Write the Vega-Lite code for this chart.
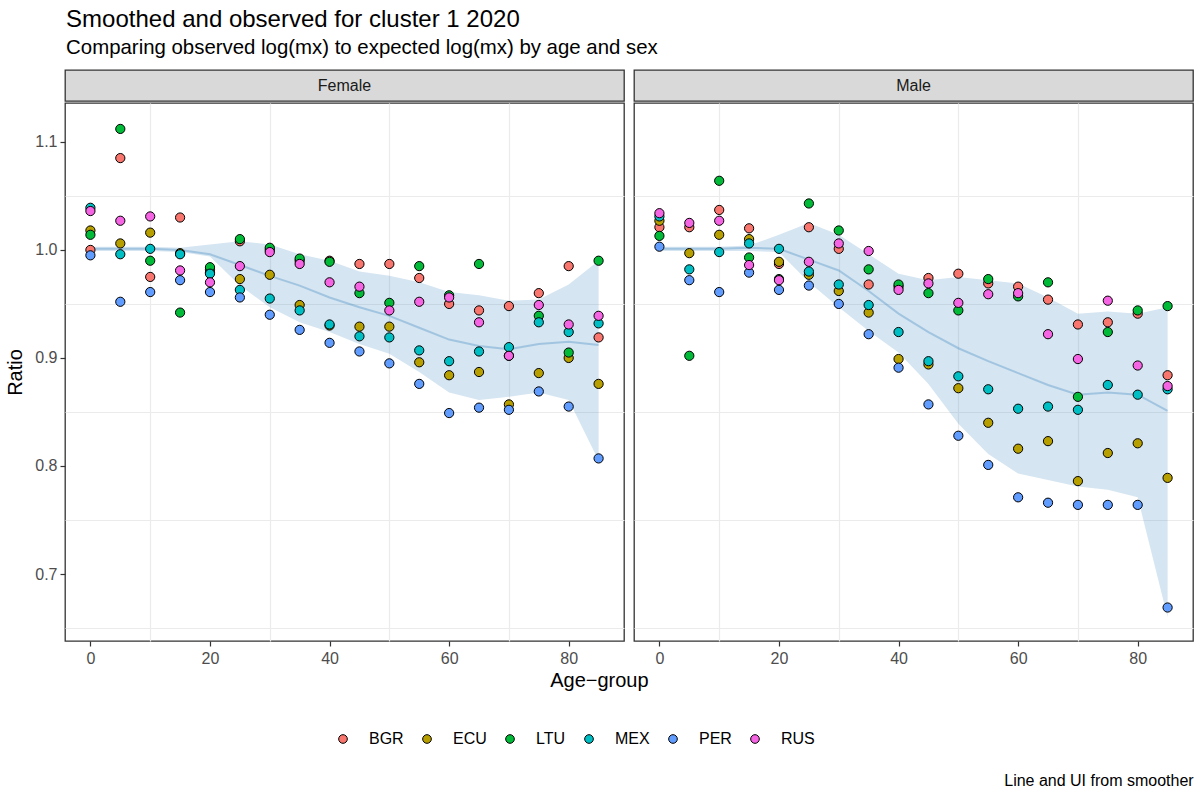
{
  "$schema": "https://vega.github.io/schema/vega-lite/v6.json",
  "background": "white",
  "padding": {"left": 5, "right": 8, "top": 7, "bottom": 5},
  "config": {
    "font": "Liberation Sans",
    "view": {"stroke": "#333333", "strokeWidth": 1.3},
    "axis": {
      "labelFont": "Liberation Sans", "labelFontSize": 16, "labelColor": "#4d4d4d",
      "tickColor": "#333333", "tickSize": 5, "tickWidth": 1.2, "domain": false,
      "gridColor": "#ebebeb", "gridWidth": 1.2,
      "titleFont": "Liberation Sans", "titleFontSize": 20, "titleFontWeight": "normal", "titleColor": "#000000"
    },
    "legend": {"labelFont": "Liberation Sans"}
  },
  "datasets": {
    "obs": [
      {"sex":"Female","country":"BGR","age":0,"ratio":1.000},{"sex":"Female","country":"BGR","age":5,"ratio":1.085},{"sex":"Female","country":"BGR","age":10,"ratio":0.975},{"sex":"Female","country":"BGR","age":15,"ratio":1.030},{"sex":"Female","country":"BGR","age":20,"ratio":0.982},{"sex":"Female","country":"BGR","age":25,"ratio":1.008},{"sex":"Female","country":"BGR","age":30,"ratio":1.000},{"sex":"Female","country":"BGR","age":35,"ratio":0.990},{"sex":"Female","country":"BGR","age":40,"ratio":0.990},{"sex":"Female","country":"BGR","age":45,"ratio":0.987},{"sex":"Female","country":"BGR","age":50,"ratio":0.987},{"sex":"Female","country":"BGR","age":55,"ratio":0.974},{"sex":"Female","country":"BGR","age":60,"ratio":0.950},{"sex":"Female","country":"BGR","age":65,"ratio":0.944},{"sex":"Female","country":"BGR","age":70,"ratio":0.948},{"sex":"Female","country":"BGR","age":75,"ratio":0.960},{"sex":"Female","country":"BGR","age":80,"ratio":0.985},{"sex":"Female","country":"BGR","age":85,"ratio":0.919},
      {"sex":"Female","country":"ECU","age":0,"ratio":1.018},{"sex":"Female","country":"ECU","age":5,"ratio":1.006},{"sex":"Female","country":"ECU","age":10,"ratio":1.016},{"sex":"Female","country":"ECU","age":15,"ratio":0.997},{"sex":"Female","country":"ECU","age":20,"ratio":0.979},{"sex":"Female","country":"ECU","age":25,"ratio":0.973},{"sex":"Female","country":"ECU","age":30,"ratio":0.977},{"sex":"Female","country":"ECU","age":35,"ratio":0.949},{"sex":"Female","country":"ECU","age":40,"ratio":0.930},{"sex":"Female","country":"ECU","age":45,"ratio":0.929},{"sex":"Female","country":"ECU","age":50,"ratio":0.929},{"sex":"Female","country":"ECU","age":55,"ratio":0.896},{"sex":"Female","country":"ECU","age":60,"ratio":0.884},{"sex":"Female","country":"ECU","age":65,"ratio":0.887},{"sex":"Female","country":"ECU","age":70,"ratio":0.857},{"sex":"Female","country":"ECU","age":75,"ratio":0.886},{"sex":"Female","country":"ECU","age":80,"ratio":0.900},{"sex":"Female","country":"ECU","age":85,"ratio":0.876},
      {"sex":"Female","country":"LTU","age":0,"ratio":1.014},{"sex":"Female","country":"LTU","age":5,"ratio":1.112},{"sex":"Female","country":"LTU","age":10,"ratio":0.990},{"sex":"Female","country":"LTU","age":15,"ratio":0.942},{"sex":"Female","country":"LTU","age":20,"ratio":0.984},{"sex":"Female","country":"LTU","age":25,"ratio":1.010},{"sex":"Female","country":"LTU","age":30,"ratio":1.002},{"sex":"Female","country":"LTU","age":35,"ratio":0.992},{"sex":"Female","country":"LTU","age":40,"ratio":0.989},{"sex":"Female","country":"LTU","age":45,"ratio":0.960},{"sex":"Female","country":"LTU","age":50,"ratio":0.951},{"sex":"Female","country":"LTU","age":55,"ratio":0.985},{"sex":"Female","country":"LTU","age":60,"ratio":0.958},{"sex":"Female","country":"LTU","age":65,"ratio":0.987},{"sex":"Female","country":"LTU","age":70,"ratio":0.902},{"sex":"Female","country":"LTU","age":75,"ratio":0.939},{"sex":"Female","country":"LTU","age":80,"ratio":0.905},{"sex":"Female","country":"LTU","age":85,"ratio":0.990},
      {"sex":"Female","country":"MEX","age":0,"ratio":1.039},{"sex":"Female","country":"MEX","age":5,"ratio":0.996},{"sex":"Female","country":"MEX","age":10,"ratio":1.001},{"sex":"Female","country":"MEX","age":15,"ratio":0.996},{"sex":"Female","country":"MEX","age":20,"ratio":0.978},{"sex":"Female","country":"MEX","age":25,"ratio":0.963},{"sex":"Female","country":"MEX","age":30,"ratio":0.955},{"sex":"Female","country":"MEX","age":35,"ratio":0.944},{"sex":"Female","country":"MEX","age":40,"ratio":0.931},{"sex":"Female","country":"MEX","age":45,"ratio":0.920},{"sex":"Female","country":"MEX","age":50,"ratio":0.919},{"sex":"Female","country":"MEX","age":55,"ratio":0.907},{"sex":"Female","country":"MEX","age":60,"ratio":0.897},{"sex":"Female","country":"MEX","age":65,"ratio":0.906},{"sex":"Female","country":"MEX","age":70,"ratio":0.910},{"sex":"Female","country":"MEX","age":75,"ratio":0.933},{"sex":"Female","country":"MEX","age":80,"ratio":0.924},{"sex":"Female","country":"MEX","age":85,"ratio":0.932},
      {"sex":"Female","country":"PER","age":0,"ratio":0.995},{"sex":"Female","country":"PER","age":5,"ratio":0.952},{"sex":"Female","country":"PER","age":10,"ratio":0.961},{"sex":"Female","country":"PER","age":15,"ratio":0.972},{"sex":"Female","country":"PER","age":20,"ratio":0.961},{"sex":"Female","country":"PER","age":25,"ratio":0.956},{"sex":"Female","country":"PER","age":30,"ratio":0.940},{"sex":"Female","country":"PER","age":35,"ratio":0.926},{"sex":"Female","country":"PER","age":40,"ratio":0.914},{"sex":"Female","country":"PER","age":45,"ratio":0.906},{"sex":"Female","country":"PER","age":50,"ratio":0.895},{"sex":"Female","country":"PER","age":55,"ratio":0.876},{"sex":"Female","country":"PER","age":60,"ratio":0.849},{"sex":"Female","country":"PER","age":65,"ratio":0.854},{"sex":"Female","country":"PER","age":70,"ratio":0.852},{"sex":"Female","country":"PER","age":75,"ratio":0.869},{"sex":"Female","country":"PER","age":80,"ratio":0.855},{"sex":"Female","country":"PER","age":85,"ratio":0.807},
      {"sex":"Female","country":"RUS","age":0,"ratio":1.036},{"sex":"Female","country":"RUS","age":5,"ratio":1.027},{"sex":"Female","country":"RUS","age":10,"ratio":1.031},{"sex":"Female","country":"RUS","age":15,"ratio":0.981},{"sex":"Female","country":"RUS","age":20,"ratio":0.970},{"sex":"Female","country":"RUS","age":25,"ratio":0.985},{"sex":"Female","country":"RUS","age":30,"ratio":0.998},{"sex":"Female","country":"RUS","age":35,"ratio":0.987},{"sex":"Female","country":"RUS","age":40,"ratio":0.970},{"sex":"Female","country":"RUS","age":45,"ratio":0.966},{"sex":"Female","country":"RUS","age":50,"ratio":0.944},{"sex":"Female","country":"RUS","age":55,"ratio":0.952},{"sex":"Female","country":"RUS","age":60,"ratio":0.956},{"sex":"Female","country":"RUS","age":65,"ratio":0.933},{"sex":"Female","country":"RUS","age":70,"ratio":0.902},{"sex":"Female","country":"RUS","age":75,"ratio":0.949},{"sex":"Female","country":"RUS","age":80,"ratio":0.931},{"sex":"Female","country":"RUS","age":85,"ratio":0.939},
      {"sex":"Male","country":"BGR","age":0,"ratio":1.021},{"sex":"Male","country":"BGR","age":5,"ratio":1.021},{"sex":"Male","country":"BGR","age":10,"ratio":1.037},{"sex":"Male","country":"BGR","age":15,"ratio":1.020},{"sex":"Male","country":"BGR","age":20,"ratio":0.987},{"sex":"Male","country":"BGR","age":25,"ratio":1.021},{"sex":"Male","country":"BGR","age":30,"ratio":1.001},{"sex":"Male","country":"BGR","age":35,"ratio":0.968},{"sex":"Male","country":"BGR","age":40,"ratio":0.966},{"sex":"Male","country":"BGR","age":45,"ratio":0.974},{"sex":"Male","country":"BGR","age":50,"ratio":0.978},{"sex":"Male","country":"BGR","age":55,"ratio":0.969},{"sex":"Male","country":"BGR","age":60,"ratio":0.966},{"sex":"Male","country":"BGR","age":65,"ratio":0.954},{"sex":"Male","country":"BGR","age":70,"ratio":0.931},{"sex":"Male","country":"BGR","age":75,"ratio":0.933},{"sex":"Male","country":"BGR","age":80,"ratio":0.941},{"sex":"Male","country":"BGR","age":85,"ratio":0.884},
      {"sex":"Male","country":"ECU","age":0,"ratio":1.027},{"sex":"Male","country":"ECU","age":5,"ratio":0.997},{"sex":"Male","country":"ECU","age":10,"ratio":1.014},{"sex":"Male","country":"ECU","age":15,"ratio":1.010},{"sex":"Male","country":"ECU","age":20,"ratio":0.989},{"sex":"Male","country":"ECU","age":25,"ratio":0.977},{"sex":"Male","country":"ECU","age":30,"ratio":0.962},{"sex":"Male","country":"ECU","age":35,"ratio":0.942},{"sex":"Male","country":"ECU","age":40,"ratio":0.899},{"sex":"Male","country":"ECU","age":45,"ratio":0.894},{"sex":"Male","country":"ECU","age":50,"ratio":0.872},{"sex":"Male","country":"ECU","age":55,"ratio":0.840},{"sex":"Male","country":"ECU","age":60,"ratio":0.816},{"sex":"Male","country":"ECU","age":65,"ratio":0.823},{"sex":"Male","country":"ECU","age":70,"ratio":0.786},{"sex":"Male","country":"ECU","age":75,"ratio":0.812},{"sex":"Male","country":"ECU","age":80,"ratio":0.821},{"sex":"Male","country":"ECU","age":85,"ratio":0.789},
      {"sex":"Male","country":"LTU","age":0,"ratio":1.013},{"sex":"Male","country":"LTU","age":5,"ratio":0.902},{"sex":"Male","country":"LTU","age":10,"ratio":1.064},{"sex":"Male","country":"LTU","age":15,"ratio":0.993},{"sex":"Male","country":"LTU","age":20,"ratio":0.973},{"sex":"Male","country":"LTU","age":25,"ratio":1.043},{"sex":"Male","country":"LTU","age":30,"ratio":1.018},{"sex":"Male","country":"LTU","age":35,"ratio":0.982},{"sex":"Male","country":"LTU","age":40,"ratio":0.968},{"sex":"Male","country":"LTU","age":45,"ratio":0.960},{"sex":"Male","country":"LTU","age":50,"ratio":0.944},{"sex":"Male","country":"LTU","age":55,"ratio":0.973},{"sex":"Male","country":"LTU","age":60,"ratio":0.957},{"sex":"Male","country":"LTU","age":65,"ratio":0.970},{"sex":"Male","country":"LTU","age":70,"ratio":0.864},{"sex":"Male","country":"LTU","age":75,"ratio":0.924},{"sex":"Male","country":"LTU","age":80,"ratio":0.944},{"sex":"Male","country":"LTU","age":85,"ratio":0.948},
      {"sex":"Male","country":"MEX","age":0,"ratio":1.031},{"sex":"Male","country":"MEX","age":5,"ratio":0.982},{"sex":"Male","country":"MEX","age":10,"ratio":0.998},{"sex":"Male","country":"MEX","age":15,"ratio":1.006},{"sex":"Male","country":"MEX","age":20,"ratio":1.001},{"sex":"Male","country":"MEX","age":25,"ratio":0.980},{"sex":"Male","country":"MEX","age":30,"ratio":0.968},{"sex":"Male","country":"MEX","age":35,"ratio":0.949},{"sex":"Male","country":"MEX","age":40,"ratio":0.924},{"sex":"Male","country":"MEX","age":45,"ratio":0.897},{"sex":"Male","country":"MEX","age":50,"ratio":0.883},{"sex":"Male","country":"MEX","age":55,"ratio":0.871},{"sex":"Male","country":"MEX","age":60,"ratio":0.853},{"sex":"Male","country":"MEX","age":65,"ratio":0.855},{"sex":"Male","country":"MEX","age":70,"ratio":0.852},{"sex":"Male","country":"MEX","age":75,"ratio":0.875},{"sex":"Male","country":"MEX","age":80,"ratio":0.866},{"sex":"Male","country":"MEX","age":85,"ratio":0.871},
      {"sex":"Male","country":"PER","age":0,"ratio":1.003},{"sex":"Male","country":"PER","age":5,"ratio":0.972},{"sex":"Male","country":"PER","age":10,"ratio":0.961},{"sex":"Male","country":"PER","age":15,"ratio":0.979},{"sex":"Male","country":"PER","age":20,"ratio":0.963},{"sex":"Male","country":"PER","age":25,"ratio":0.967},{"sex":"Male","country":"PER","age":30,"ratio":0.950},{"sex":"Male","country":"PER","age":35,"ratio":0.922},{"sex":"Male","country":"PER","age":40,"ratio":0.891},{"sex":"Male","country":"PER","age":45,"ratio":0.857},{"sex":"Male","country":"PER","age":50,"ratio":0.828},{"sex":"Male","country":"PER","age":55,"ratio":0.801},{"sex":"Male","country":"PER","age":60,"ratio":0.771},{"sex":"Male","country":"PER","age":65,"ratio":0.766},{"sex":"Male","country":"PER","age":70,"ratio":0.764},{"sex":"Male","country":"PER","age":75,"ratio":0.764},{"sex":"Male","country":"PER","age":80,"ratio":0.764},{"sex":"Male","country":"PER","age":85,"ratio":0.669},
      {"sex":"Male","country":"RUS","age":0,"ratio":1.034},{"sex":"Male","country":"RUS","age":5,"ratio":1.025},{"sex":"Male","country":"RUS","age":10,"ratio":1.027},{"sex":"Male","country":"RUS","age":15,"ratio":0.986},{"sex":"Male","country":"RUS","age":20,"ratio":0.972},{"sex":"Male","country":"RUS","age":25,"ratio":0.989},{"sex":"Male","country":"RUS","age":30,"ratio":1.006},{"sex":"Male","country":"RUS","age":35,"ratio":0.999},{"sex":"Male","country":"RUS","age":40,"ratio":0.963},{"sex":"Male","country":"RUS","age":45,"ratio":0.969},{"sex":"Male","country":"RUS","age":50,"ratio":0.951},{"sex":"Male","country":"RUS","age":55,"ratio":0.959},{"sex":"Male","country":"RUS","age":60,"ratio":0.960},{"sex":"Male","country":"RUS","age":65,"ratio":0.922},{"sex":"Male","country":"RUS","age":70,"ratio":0.899},{"sex":"Male","country":"RUS","age":75,"ratio":0.953},{"sex":"Male","country":"RUS","age":80,"ratio":0.893},{"sex":"Male","country":"RUS","age":85,"ratio":0.874}
    ],
    "smooth": [
      {"sex":"Female","age":0,"fit":1.001,"lo":0.999,"hi":1.003},{"sex":"Female","age":5,"fit":1.001,"lo":0.999,"hi":1.003},{"sex":"Female","age":10,"fit":1.001,"lo":0.999,"hi":1.003},{"sex":"Female","age":15,"fit":1.000,"lo":0.998,"hi":1.002},{"sex":"Female","age":20,"fit":0.996,"lo":0.994,"hi":1.005},{"sex":"Female","age":25,"fit":0.986,"lo":0.967,"hi":1.008},{"sex":"Female","age":30,"fit":0.976,"lo":0.947,"hi":1.005},{"sex":"Female","age":35,"fit":0.967,"lo":0.933,"hi":0.996},{"sex":"Female","age":40,"fit":0.956,"lo":0.924,"hi":0.990},{"sex":"Female","age":45,"fit":0.947,"lo":0.913,"hi":0.980},{"sex":"Female","age":50,"fit":0.939,"lo":0.904,"hi":0.976},{"sex":"Female","age":55,"fit":0.928,"lo":0.887,"hi":0.970},{"sex":"Female","age":60,"fit":0.917,"lo":0.868,"hi":0.961},{"sex":"Female","age":65,"fit":0.911,"lo":0.861,"hi":0.958},{"sex":"Female","age":70,"fit":0.908,"lo":0.864,"hi":0.953},{"sex":"Female","age":75,"fit":0.913,"lo":0.868,"hi":0.954},{"sex":"Female","age":80,"fit":0.915,"lo":0.861,"hi":0.968},{"sex":"Female","age":85,"fit":0.912,"lo":0.805,"hi":0.990},
      {"sex":"Male","age":0,"fit":1.001,"lo":0.999,"hi":1.003},{"sex":"Male","age":5,"fit":1.001,"lo":0.999,"hi":1.003},{"sex":"Male","age":10,"fit":1.001,"lo":0.999,"hi":1.003},{"sex":"Male","age":15,"fit":1.002,"lo":0.999,"hi":1.004},{"sex":"Male","age":20,"fit":1.001,"lo":0.998,"hi":1.014},{"sex":"Male","age":25,"fit":0.991,"lo":0.970,"hi":1.025},{"sex":"Male","age":30,"fit":0.981,"lo":0.947,"hi":1.014},{"sex":"Male","age":35,"fit":0.962,"lo":0.925,"hi":0.996},{"sex":"Male","age":40,"fit":0.941,"lo":0.905,"hi":0.978},{"sex":"Male","age":45,"fit":0.924,"lo":0.876,"hi":0.972},{"sex":"Male","age":50,"fit":0.909,"lo":0.839,"hi":0.975},{"sex":"Male","age":55,"fit":0.897,"lo":0.811,"hi":0.972},{"sex":"Male","age":60,"fit":0.886,"lo":0.793,"hi":0.969},{"sex":"Male","age":65,"fit":0.875,"lo":0.787,"hi":0.956},{"sex":"Male","age":70,"fit":0.866,"lo":0.781,"hi":0.941},{"sex":"Male","age":75,"fit":0.868,"lo":0.778,"hi":0.943},{"sex":"Male","age":80,"fit":0.866,"lo":0.771,"hi":0.941},{"sex":"Male","age":85,"fit":0.851,"lo":0.660,"hi":0.947}
    ]
  },
  "title": {"text": "Line and UI from smoother", "orient": "bottom", "anchor": "end", "fontSize": 16, "fontWeight": "normal", "color": "#000000", "font": "Liberation Sans", "offset": 26},
  "vconcat": [
    {
      "title": {"text": "Smoothed and observed for cluster 1 2020", "subtitle": "Comparing observed log(mx) to expected log(mx) by age and sex", "anchor": "start", "dx": 61, "fontSize": 24, "fontWeight": "normal", "subtitleFontSize": 20.4, "color": "#000000", "subtitleColor": "#000000", "font": "Liberation Sans", "subtitleFont": "Liberation Sans", "offset": 11, "subtitlePadding": 6},
      "vconcat": [
        {
          "title": {"text": "Age−group", "orient": "bottom", "anchor": "middle", "fontSize": 20, "fontWeight": "normal", "color": "#000000", "font": "Liberation Sans", "offset": 4},
          "spacing": 8,
          "hconcat": [
            {
              "spacing": 0,
              "vconcat": [
                {"width": 559, "height": 31, "data": {"values": [{"label": "Female"}]}, "mark": {"type": "text", "fontSize": 16, "color": "#1a1a1a", "font": "Liberation Sans"}, "encoding": {"text": {"field": "label"}}, "view": {"fill": "#d9d9d9", "stroke": "#333333", "strokeWidth": 1.3}},
                {
                  "width": 559, "height": 538,
                  "layer": [
                    {"data": {"name": "smooth"}, "transform": [{"filter": "datum.sex == 'Female'"}], "mark": {"type": "area", "color": "#2b7bba", "opacity": 0.2},
                     "encoding": {
                       "x": {"field": "age", "type": "quantitative", "scale": {"domain": [-4.25, 89.25], "nice": false, "zero": false}, "axis": {"title": null, "values": [0, 10, 20, 30, 40, 50, 60, 70, 80], "labelExpr": "datum.value % 20 == 0 ? datum.label : ''", "tickOpacity": {"condition": {"test": "datum.value % 20 == 0", "value": 1}, "value": 0}, "gridOpacity": {"condition": {"test": "datum.value % 20 == 0", "value": 0}, "value": 1}, "labelPadding": 4}},
                       "y": {"field": "lo", "type": "quantitative", "title": "Ratio", "scale": {"domain": [0.638, 1.136], "nice": false, "zero": false}, "axis": {"title": "Ratio", "values": [0.65, 0.7, 0.75, 0.8, 0.85, 0.9, 0.95, 1.0, 1.05, 1.1], "labelExpr": "round(datum.value*100) % 10 == 0 ? format(datum.value, '.1f') : ''", "tickOpacity": {"condition": {"test": "round(datum.value*100) % 10 == 0", "value": 1}, "value": 0}, "gridOpacity": {"condition": {"test": "round(datum.value*100) % 10 == 0", "value": 0}, "value": 1}, "labelPadding": 3, "titlePadding": 9}},
                       "y2": {"field": "hi"}
                     }},
                    {"data": {"name": "smooth"}, "transform": [{"filter": "datum.sex == 'Female'"}], "mark": {"type": "line", "color": "#2b7bba", "opacity": 0.3, "strokeWidth": 2},
                     "encoding": {
                       "x": {"field": "age", "type": "quantitative"},
                       "y": {"field": "fit", "type": "quantitative", "title": "Ratio"}
                     }},
                    {"data": {"name": "obs"}, "transform": [{"filter": "datum.sex == 'Female'"}], "mark": {"type": "circle", "size": 85, "opacity": 1, "stroke": "#000000", "strokeWidth": 1},
                     "encoding": {
                       "x": {"field": "age", "type": "quantitative"},
                       "y": {"field": "ratio", "type": "quantitative", "title": "Ratio"},
                       "fill": {"field": "country", "type": "nominal", "scale": {"domain": ["BGR", "ECU", "LTU", "MEX", "PER", "RUS"], "range": ["#F8766D", "#B79F00", "#00BA38", "#00BFC4", "#619CFF", "#F564E3"]},
                         "legend": {"orient": "none", "direction": "horizontal", "title": null, "legendX": 270, "legendY": 661, "labelFontSize": 16, "labelColor": "#000000", "symbolType": "circle", "symbolSize": 75, "symbolStrokeColor": "#000000", "symbolStrokeWidth": 1, "symbolOpacity": 1, "labelOffset": 18, "columnPadding": 15}}
                     }}
                  ]
                }
              ]
            },
            {
              "spacing": 0,
              "vconcat": [
                {"width": 559, "height": 31, "data": {"values": [{"label": "Male"}]}, "mark": {"type": "text", "fontSize": 16, "color": "#1a1a1a", "font": "Liberation Sans"}, "encoding": {"text": {"field": "label"}}, "view": {"fill": "#d9d9d9", "stroke": "#333333", "strokeWidth": 1.3}},
                {
                  "width": 559, "height": 538,
                  "layer": [
                    {"data": {"name": "smooth"}, "transform": [{"filter": "datum.sex == 'Male'"}], "mark": {"type": "area", "color": "#2b7bba", "opacity": 0.2},
                     "encoding": {
                       "x": {"field": "age", "type": "quantitative", "scale": {"domain": [-4.25, 89.25], "nice": false, "zero": false}, "axis": {"title": null, "values": [0, 10, 20, 30, 40, 50, 60, 70, 80], "labelExpr": "datum.value % 20 == 0 ? datum.label : ''", "tickOpacity": {"condition": {"test": "datum.value % 20 == 0", "value": 1}, "value": 0}, "gridOpacity": {"condition": {"test": "datum.value % 20 == 0", "value": 0}, "value": 1}, "labelPadding": 4}},
                       "y": {"field": "lo", "type": "quantitative", "scale": {"domain": [0.638, 1.136], "nice": false, "zero": false}, "axis": {"title": null, "labels": false, "ticks": false, "values": [0.65, 0.75, 0.85, 0.95, 1.05]}},
                       "y2": {"field": "hi"}
                     }},
                    {"data": {"name": "smooth"}, "transform": [{"filter": "datum.sex == 'Male'"}], "mark": {"type": "line", "color": "#2b7bba", "opacity": 0.3, "strokeWidth": 2},
                     "encoding": {
                       "x": {"field": "age", "type": "quantitative"},
                       "y": {"field": "fit", "type": "quantitative"}
                     }},
                    {"data": {"name": "obs"}, "transform": [{"filter": "datum.sex == 'Male'"}], "mark": {"type": "circle", "size": 85, "opacity": 1, "stroke": "#000000", "strokeWidth": 1},
                     "encoding": {
                       "x": {"field": "age", "type": "quantitative"},
                       "y": {"field": "ratio", "type": "quantitative"},
                       "fill": {"field": "country", "type": "nominal", "scale": {"domain": ["BGR", "ECU", "LTU", "MEX", "PER", "RUS"], "range": ["#F8766D", "#B79F00", "#00BA38", "#00BFC4", "#619CFF", "#F564E3"]}}
                     }}
                  ]
                }
              ]
            }
          ]
        }
      ]
    }
  ]
}
